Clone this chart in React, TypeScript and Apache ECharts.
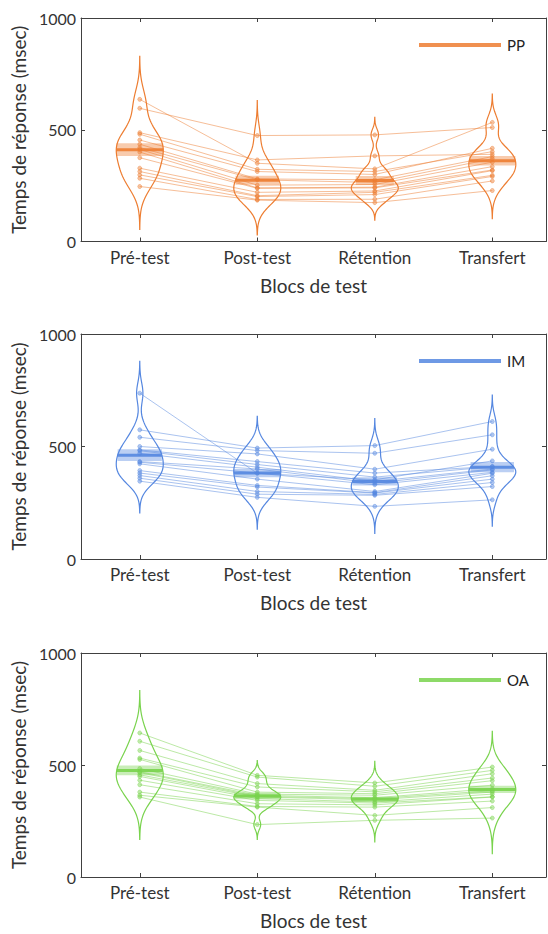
import React, { useEffect, useRef } from 'react';
import * as echarts from 'echarts';

// ---------- data ----------
const conditions = ['Pré-test', 'Post-test', 'Rétention', 'Transfert'];
const groupNames = ['PP', 'IM', 'OA'];
const yTickMax = 1000;
const yTickStep = 500;

// PP group, one value per subject (msec)
const ppPre = [636, 596, 487, 480, 454, 435, 420, 412, 400, 375, 328, 313, 298, 283, 246];
const ppPost = [350, 474, 365, 323, 313, 280, 276, 252, 240, 238, 220, 205, 201, 188, 185];
const ppRet = [325, 477, 383, 313, 300, 276, 264, 255, 243, 240, 226, 220, 210, 189, 174];
const ppTr = [533, 510, 390, 402, 417, 380, 370, 355, 335, 320, 317, 296, 291, 271, 228];
const ppBandwidth = [64, 52, 26, 42];

// IM group
const imPre = [737, 574, 541, 500, 485, 481, 470, 433, 430, 423, 393, 382, 371, 359, 346];
const imPost = [381, 493, 482, 467, 433, 420, 408, 400, 382, 355, 327, 320, 300, 288, 274];
const imRet = [352, 504, 470, 399, 382, 364, 345, 337, 330, 300, 295, 293, 287, 283, 234];
const imTr = [436, 611, 552, 488, 411, 410, 400, 396, 385, 381, 370, 355, 340, 322, 263];
const imBandwidth = [47, 47, 40, 39];

// OA group
const oaPre = [643, 606, 565, 531, 525, 484, 470, 466, 456, 449, 432, 412, 379, 365, 357];
const oaPost = [454, 446, 417, 402, 379, 370, 365, 360, 357, 350, 342, 327, 315, 312, 234];
const oaRet = [420, 405, 387, 380, 372, 365, 354, 350, 345, 335, 330, 322, 312, 275, 253];
const oaTr = [491, 476, 461, 442, 430, 410, 394, 385, 379, 370, 358, 357, 339, 310, 263];
const oaBandwidth = [63, 22, 32, 53];

const groupData = [
  [ppPre, ppPost, ppRet, ppTr],
  [imPre, imPost, imRet, imTr],
  [oaPre, oaPost, oaRet, oaTr],
];
const groupBandwidth = [ppBandwidth, imBandwidth, oaBandwidth];
const groupColors = ['#ED7D31', '#5587E0', '#79D34D'];

// ---------- layout ----------
const FONT = 'Lato, "Open Sans", sans-serif';
const GRID_LEFT = 81;
const GRID_WIDTH = 465;
const GRID_TOPS = [18, 334, 653];
const GRID_HEIGHTS = [223.5, 225, 224];
const X_MIN = 0.5;
const X_MAX = 4.457;
const HALF_W = 0.2;
const AXIS_COLOR = '#404040';
const TEXT_COLOR = '#333333';

function kde(values: number[], bw: number) {
  const lo = Math.min(...values) - 3 * bw;
  const hi = Math.max(...values) + 3 * bw;
  const n = 100;
  const ys: number[] = [];
  const ds: number[] = [];
  for (let i = 0; i < n; i++) {
    const y = lo + ((hi - lo) * i) / (n - 1);
    let d = 0;
    for (const v of values) {
      const z = (y - v) / bw;
      d += Math.exp(-0.5 * z * z);
    }
    ys.push(y);
    ds.push(d);
  }
  return { ys, ds };
}

function densityAt(values: number[], bw: number, y: number) {
  let d = 0;
  for (const v of values) {
    const z = (y - v) / bw;
    d += Math.exp(-0.5 * z * z);
  }
  return d;
}

function mean(a: number[]) {
  return a.reduce((s, v) => s + v, 0) / a.length;
}
function sem(a: number[]) {
  const m = mean(a);
  const sd = Math.sqrt(a.reduce((s, v) => s + (v - m) * (v - m), 0) / (a.length - 1));
  return sd / Math.sqrt(a.length);
}

function hexToRgba(hex: string, a: number) {
  const r = parseInt(hex.slice(1, 3), 16);
  const g = parseInt(hex.slice(3, 5), 16);
  const b = parseInt(hex.slice(5, 7), 16);
  return `rgba(${r},${g},${b},${a})`;
}

function buildOption() {
  const grid: any[] = [];
  const xAxis: any[] = [];
  const yAxis: any[] = [];
  const series: any[] = [];
  const graphic: any[] = [];
  const ticks = conditions.map((_, i) => i + 1);

  groupNames.forEach((gname, gi) => {
    const color = groupColors[gi];
    const data = groupData[gi];
    const bws = groupBandwidth[gi];
    grid.push({ left: GRID_LEFT, top: GRID_TOPS[gi], width: GRID_WIDTH, height: GRID_HEIGHTS[gi] });

    xAxis.push({
      gridIndex: gi,
      type: 'value',
      min: X_MIN,
      max: X_MAX,
      position: 'bottom',
      axisLine: { show: true, onZero: false, lineStyle: { color: AXIS_COLOR, width: 1 } },
      axisTick: { show: true, inside: true, length: 4, customValues: ticks, lineStyle: { color: AXIS_COLOR } },
      axisLabel: {
        show: true,
        customValues: ticks,
        formatter: (v: number) => conditions[Math.round(v) - 1] ?? '',
        fontFamily: FONT,
        fontSize: 17,
        color: TEXT_COLOR,
        margin: 7,
      },
      splitLine: { show: false },
      name: 'Blocs de test',
      nameLocation: 'middle',
      nameGap: 34,
      nameTextStyle: { fontFamily: FONT, fontSize: 19, color: TEXT_COLOR },
    });
    xAxis.push({
      gridIndex: gi,
      type: 'value',
      min: X_MIN,
      max: X_MAX,
      position: 'top',
      axisLine: { show: true, onZero: false, lineStyle: { color: AXIS_COLOR, width: 1 } },
      axisTick: { show: true, inside: true, length: 4, customValues: ticks, lineStyle: { color: AXIS_COLOR } },
      axisLabel: { show: false },
      splitLine: { show: false },
    });
    yAxis.push({
      gridIndex: gi,
      type: 'value',
      min: 0,
      max: yTickMax,
      interval: yTickStep,
      position: 'left',
      axisLine: { show: true, onZero: false, lineStyle: { color: AXIS_COLOR, width: 1 } },
      axisTick: { show: true, inside: true, length: 4, lineStyle: { color: AXIS_COLOR } },
      axisLabel: {
        fontFamily: FONT,
        fontSize: 16,
        color: TEXT_COLOR,
        margin: 5,
        formatter: (v: number) => String(v),
      },
      splitLine: { show: false },
      name: 'Temps de réponse (msec)',
      nameLocation: 'middle',
      nameGap: 48,
      nameTextStyle: { fontFamily: FONT, fontSize: 19, color: TEXT_COLOR },
    });
    yAxis.push({
      gridIndex: gi,
      type: 'value',
      min: 0,
      max: yTickMax,
      interval: yTickStep,
      position: 'right',
      axisLine: { show: true, onZero: false, lineStyle: { color: AXIS_COLOR, width: 1 } },
      axisTick: { show: true, inside: true, length: 4, lineStyle: { color: AXIS_COLOR } },
      axisLabel: { show: false },
      splitLine: { show: false },
    });

    const xi = gi * 2;
    const yi = gi * 2;
    const nSub = data[0].length;

    // subject lines
    for (let s = 0; s < nSub; s++) {
      series.push({
        type: 'line',
        xAxisIndex: xi,
        yAxisIndex: yi,
        data: data.map((cond, ci) => [ci + 1, cond[s]]),
        symbol: 'none',
        silent: true,
        z: 1,
        lineStyle: { color: hexToRgba(color, 0.5), width: 1 },
      });
    }

    // violins + mean band
    series.push({
      type: 'custom',
      xAxisIndex: xi,
      yAxisIndex: yi,
      z: 2,
      silent: true,
      data: ticks.map((t) => [t, 0]),
      encode: { x: 0, y: 1 },
      renderItem: (params: any, api: any) => {
        const k = api.value(0);
        const vals = data[k - 1];
        const bw = bws[k - 1];
        const { ys, ds } = kde(vals, bw);
        const maxd = Math.max(...ds);
        const right = ys.map((y, i) => api.coord([k + (HALF_W * ds[i]) / maxd, y]));
        const left = ys.map((y, i) => api.coord([k - (HALF_W * ds[i]) / maxd, y])).reverse();
        const m = mean(vals);
        const e = sem(vals);
        const wm = (HALF_W * densityAt(vals, bw, m)) / maxd;
        const pL = api.coord([k - wm, m]);
        const pR = api.coord([k + wm, m]);
        const bTL = api.coord([k - wm, m + e]);
        const bBR = api.coord([k + wm, m - e]);
        return {
          type: 'group',
          children: [
            {
              type: 'polygon',
              shape: { points: right.concat(left) },
              style: { fill: 'none', stroke: color, lineWidth: 1.2 },
            },
            {
              type: 'rect',
              shape: { x: bTL[0], y: bTL[1], width: bBR[0] - bTL[0], height: bBR[1] - bTL[1] },
              style: { fill: hexToRgba(color, 0.4) },
            },
            {
              type: 'line',
              shape: { x1: pL[0], y1: pL[1], x2: pR[0], y2: pR[1] },
              style: { stroke: hexToRgba(color, 0.9), lineWidth: 3 },
            },
          ],
        };
      },
    });

    // individual points
    series.push({
      type: 'scatter',
      xAxisIndex: xi,
      yAxisIndex: yi,
      z: 3,
      silent: true,
      symbol: 'circle',
      symbolSize: 4,
      data: data.flatMap((cond, ci) => cond.map((v) => [ci + 1, v])),
      itemStyle: { color: hexToRgba(color, 0.55), borderColor: hexToRgba(color, 0.9), borderWidth: 0.6 },
    });

    // legend
    const ly = GRID_TOPS[gi] + 27;
    graphic.push({
      type: 'line',
      shape: { x1: 419, y1: ly, x2: 501, y2: ly },
      style: { stroke: hexToRgba(color, 0.85), lineWidth: 4 },
      z: 10,
    });
    graphic.push({
      type: 'text',
      x: 507,
      y: ly,
      style: { text: gname, fontFamily: FONT, fontSize: 15, fill: '#222', verticalAlign: 'middle', align: 'left' },
      z: 10,
    });
  });

  return {
    animation: false,
    backgroundColor: '#ffffff',
    grid,
    xAxis,
    yAxis,
    series,
    graphic,
  };
}

export default function App() {
  const ref = useRef<HTMLDivElement>(null);
  useEffect(() => {
    document.body.style.margin = '0';
    if (!ref.current) return;
    const chart = echarts.init(ref.current, undefined, { renderer: 'svg' });
    chart.setOption(buildOption() as any);
    return () => chart.dispose();
  }, []);
  return <div ref={ref} style={{ position: 'absolute', left: 0, top: 0, width: 548, height: 934 }} />;
}
